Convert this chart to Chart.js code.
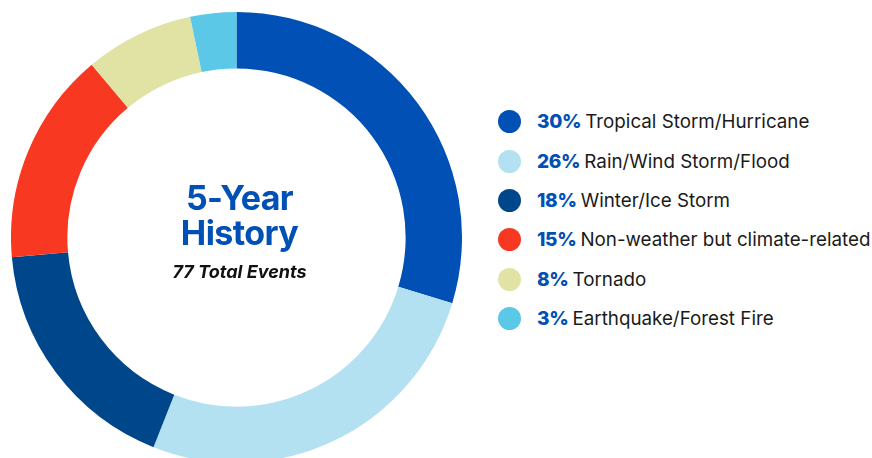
<!DOCTYPE html>
<html>
<head>
<meta charset="utf-8">
<script src="https://cdn.jsdelivr.net/npm/chart.js@4"></script>
<style>
  html, body { margin: 0; padding: 0; background: #fff; }
  body { width: 872px; height: 458px; overflow: hidden; position: relative; font-family: Inter, "Noto Sans", sans-serif; }
  #wrap { position: absolute; left: 11px; top: 11.5px; width: 451px; height: 451px; }
  #center { position: absolute; left: 119.5px; width: 240px; top: 180px; text-align: center; }
  #center .title { color: #0050b5; font-weight: 700; font-size: 34px; line-height: 35px; letter-spacing: -0.6px; }
  #center .sub { color: #111; font-weight: 700; font-style: italic; font-size: 18px; line-height: 21px; margin-top: 11px; }
  #legend { position: absolute; left: 498px; top: 102px; }
  .row { display: flex; align-items: center; height: 39.4px; white-space: nowrap; }
  .dot { width: 23px; height: 23px; border-radius: 50%; margin-right: 16px; }
  .pct { color: #0050b5; font-weight: 800; font-size: 19px; margin-right: 4px; letter-spacing: -0.3px; }
  .lbl { color: #1a1a1a; font-size: 18.8px; }
</style>
</head>
<body>
<div id="wrap"><canvas id="donut"></canvas></div>
<div id="center">
  <div class="title">5-Year<br>History</div>
  <div class="sub">77 Total Events</div>
</div>
<div id="legend"></div>
<script>
const categories = ['Tropical Storm/Hurricane', 'Rain/Wind Storm/Flood', 'Winter/Ice Storm',
  'Non-weather but climate-related', 'Tornado', 'Earthquake/Forest Fire'];
const shares = [29.7, 26.3, 17.6, 15.3, 7.8, 3.3];
const pctLabels = ['30%', '26%', '18%', '15%', '8%', '3%'];
const colors = ['#0050b5', '#b3e1f1', '#00468b', '#f93822', '#e1e3a5', '#5bc8e8'];

new Chart(document.getElementById('donut'), {
  type: 'doughnut',
  data: {
    labels: categories,
    datasets: [{
      data: shares,
      backgroundColor: colors,
      borderWidth: 0
    }]
  },
  options: {
    responsive: true,
    maintainAspectRatio: false,
    animation: false,
    cutout: '75%',
    plugins: { legend: { display: false }, tooltip: { enabled: false } }
  }
});

// legend built from the same arrays
const legend = document.getElementById('legend');
categories.forEach((name, i) => {
  const row = document.createElement('div');
  row.className = 'row';
  row.innerHTML = `<span class="dot" style="background:${colors[i]}"></span>` +
    `<span class="pct">${pctLabels[i]}</span><span class="lbl">${name}</span>`;
  legend.appendChild(row);
});
</script>
</body>
</html>
